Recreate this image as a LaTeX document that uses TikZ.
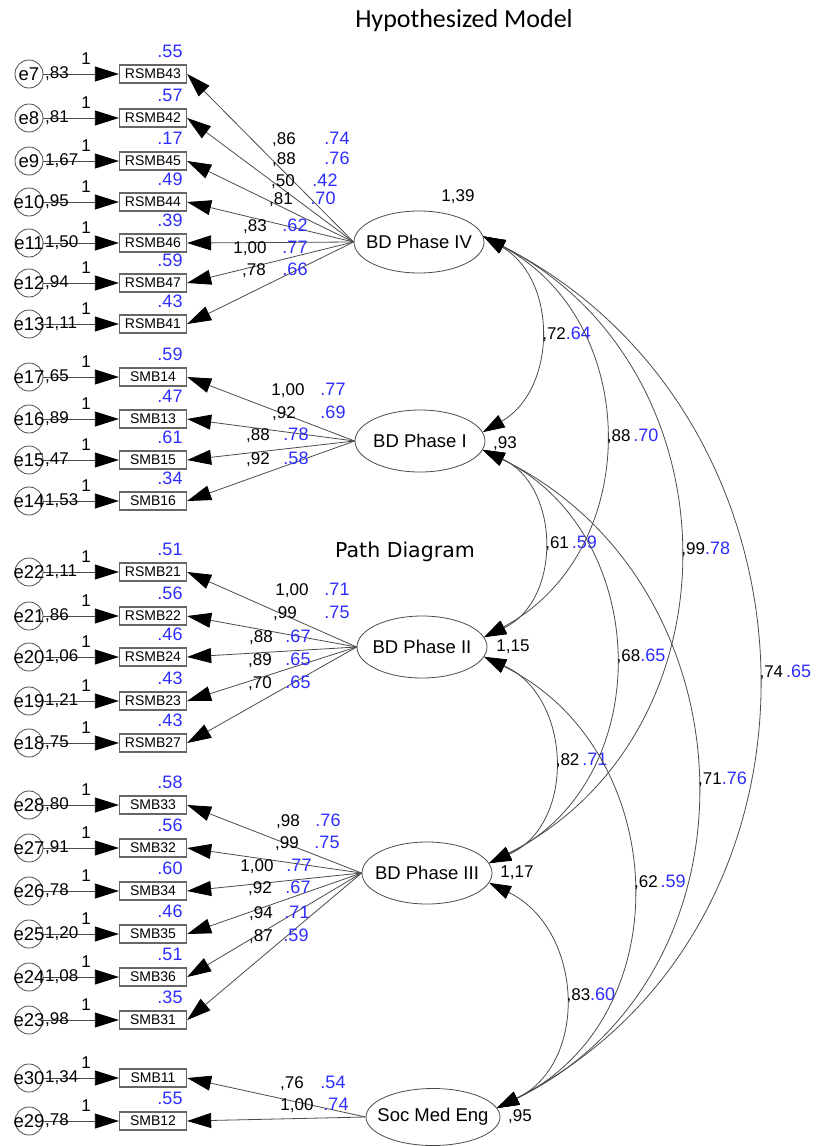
\documentclass[tikz,border=0pt]{standalone}
\usepackage{fontspec}
\setmainfont{Liberation Sans}
\newfontfamily\titlefont{Carlito}
\newfontfamily\pathfont{DejaVu Sans}
\usepackage{tikz}
\usetikzlibrary{arrows.meta,shapes.geometric}

\definecolor{stdblue}{RGB}{45,45,255}
\definecolor{pathgray}{RGB}{75,75,75}

\tikzset{
  latent/.style={ellipse,draw=pathgray,line width=0.8pt,minimum width=130pt,minimum height=62pt,inner sep=0pt},
  lvtext/.style={font=\fontsize{18.5}{18.5}\selectfont},
  errc/.style={circle,draw=pathgray,line width=0.8pt,minimum size=28pt,inner sep=0pt},
  obs/.style={rectangle,draw=black!60,line width=1.3pt,minimum width=67pt,minimum height=18pt,inner sep=0pt,font=\fontsize{14}{14}\selectfont},
  num/.style={font=\fontsize{17}{17}\selectfont,inner sep=0pt,text height=.72em,text depth=0pt},
  std/.style={font=\fontsize{18}{18}\selectfont,text=stdblue,inner sep=0pt,text height=.72em,text depth=0pt},
  reg/.style={draw=pathgray,line width=0.8pt,-{Triangle[length=24pt,width=15pt,color=black]}},
  cov/.style={draw=pathgray,line width=0.8pt,{Triangle[length=22pt,width=14pt,color=black]}-{Triangle[length=22pt,width=14pt,color=black]}},
  covlab/.style={right,inner sep=3pt},
}
\newcommand{\cv}[2]{{\fontsize{17}{17}\selectfont #1}{\fontsize{18}{18}\selectfont\color{stdblue}#2}}

\begin{document}
\begin{tikzpicture}[x=1pt,y=-1pt]
\useasboundingbox (0,0) rectangle (823,1146);

\draw (464,27) node[anchor=base,font=\titlefont\fontsize{26}{26}\selectfont] (title) {Hypothesized Model};
\draw (405,557) node[anchor=base,font=\pathfont\fontsize{20.5}{20.5}\selectfont] (pathdiag) {Path Diagram};

% factors
\draw (419,242) node[latent,label={[lvtext]center:BD Phase IV}] (phaseIV) {};
\draw (420,441) node[latent,label={[lvtext]center:BD Phase I}] (phaseI) {};
\draw (422,647) node[latent,label={[lvtext]center:BD Phase II}] (phaseII) {};
\draw (427,873) node[latent,label={[lvtext]center:BD Phase III}] (phaseIII) {};
\draw (433,1117) node[latent,minimum width=134pt,minimum height=57pt,label={[lvtext]center:Soc Med Eng}] (sme) {};

\draw (458,198) node[num] (varIV) {1,39};
\draw (505,445) node[num] (varI) {,93};
\draw (513,648) node[num] (varII) {1,15};
\draw (517,874) node[num] (varIII) {1,17};
\draw (520,1118) node[num] (varsme) {,95};

% items with their error terms
\foreach \en/\ev/\ob/\y/\rsq in {
  7/{,83}/RSMB43/74/.55, 8/{,81}/RSMB42/118/.57, 9/{1,67}/RSMB45/161/.17,
  10/{,95}/RSMB44/202/.49, 11/{1,50}/RSMB46/243/.39, 12/{,94}/RSMB47/283/.59,
  13/{1,11}/RSMB41/324/.43,
  17/{,65}/SMB14/377/.59, 16/{,89}/SMB13/419/.47, 15/{,47}/SMB15/460/.61,
  14/{1,53}/SMB16/501/.34,
  22/{1,11}/RSMB21/572/.51, 21/{,86}/RSMB22/616/.56, 20/{1,06}/RSMB24/657/.46,
  19/{1,21}/RSMB23/701/.43, 18/{,75}/RSMB27/743/.43,
  28/{,80}/SMB33/805/.58, 27/{,91}/SMB32/848/.56, 26/{,78}/SMB34/891/.60,
  25/{1,20}/SMB35/934/.46, 24/{1,08}/SMB36/977/.51, 23/{,98}/SMB31/1020/.35,
  30/{1,34}/SMB11/1078/{}, 29/{,78}/SMB12/1121/.55}
{
  \draw (29,\y) node[errc,label={[lvtext]center:e\en}] (e\en) {};
  \draw (153,\y) node[obs] (\ob) {\ob};
  \draw[reg] (e\en) -- (\ob);
  \draw (45,\y+1) node[num,anchor=west] (v\en) {\ev};
  \draw (86,\y-13) node[num] (one\en) {1};
  \draw (170,\y-20) node[std] (r\en) {\rsq};
}

% loadings
\foreach \ob/\lat/\lb/\ls/\ly/\bx/\sx in {
  RSMB43/phaseIV/{,86}/.74/141/284/337, RSMB42/phaseIV/{,88}/.76/161/284/337,
  RSMB45/phaseIV/{,50}/.42/183/283/325, RSMB44/phaseIV/{,81}/.70/201/281/323,
  RSMB46/phaseIV/{,83}/.62/228/255/295, RSMB47/phaseIV/{1,00}/.77/250/250/295,
  RSMB41/phaseIV/{,78}/.66/272/254/295,
  SMB14/phaseI/{1,00}/.77/392/288/333, SMB13/phaseI/{,92}/.69/415/284/333,
  SMB15/phaseI/{,88}/.78/437/258/296, SMB16/phaseI/{,92}/.58/461/258/296,
  RSMB21/phaseII/{1,00}/.71/592/292/337, RSMB22/phaseII/{,99}/.75/615/285/337,
  RSMB24/phaseII/{,88}/.67/639/261/298, RSMB23/phaseII/{,89}/.65/662/260/298,
  RSMB27/phaseII/{,70}/.65/685/260/298,
  SMB33/phaseIII/{,98}/.76/823/288/328, SMB32/phaseIII/{,99}/.75/845/287/327,
  SMB34/phaseIII/{1,00}/.77/868/257/299, SMB35/phaseIII/{,92}/.67/890/260/298,
  SMB36/phaseIII/{,94}/.71/915/261/297, SMB31/phaseIII/{,87}/.59/938/261/296,
  SMB11/sme/{,76}/.54/1085/292/333, SMB12/sme/{1,00}/.74/1107/297/336}
{
  \draw[reg] (\lat.west) -- (\ob.east);
  \draw (\bx,\ly) node[num] (l\ob) {\lb};
  \draw (\sx,\ly) node[std] (s\ob) {\ls};
}

% covariances between the factors
\draw[cov] (phaseIV.5) to[out=-30,in=30,distance=86pt] node[covlab] {\cv{,72}{.64}} (phaseI.8);
\draw[cov] (phaseI.-8) to[out=-25,in=25,distance=86pt] node[covlab] {\cv{,61\,}{.59}} (phaseII.9);
\draw[cov] (phaseII.-9) to[out=-24,in=24,distance=96pt] node[covlab] {\cv{,82\,}{.71}} (phaseIII.9);
\draw[cov] (phaseIII.-9) to[out=-26,in=26,distance=104pt] node[covlab] {\cv{,83}{.60}} (sme.8);
\draw[cov] (phaseIV.5) to[out=-28,in=28,distance=181pt] node[covlab] {\cv{,88\,}{.70}} (phaseII.9);
\draw[cov] (phaseI.-8) to[out=-26,in=26,distance=189pt] node[covlab] {\cv{,68}{.65}} (phaseIII.9);
\draw[cov] (phaseII.-9) to[out=-26,in=26,distance=208pt] node[covlab] {\cv{,62\,}{.59}} (sme.8);
\draw[cov] (phaseIV.5) to[out=-27,in=27,distance=287pt] node[covlab] {\cv{,99}{.78}} (phaseIII.9);
\draw[cov] (phaseI.-8) to[out=-26,in=26,distance=304pt] node[covlab] {\cv{,71}{.76}} (sme.8);
\draw[cov] (phaseIV.5) to[out=-27,in=27,distance=398pt] node[covlab] {\cv{,74\,}{.65}} (sme.8);
\end{tikzpicture}
\end{document}
